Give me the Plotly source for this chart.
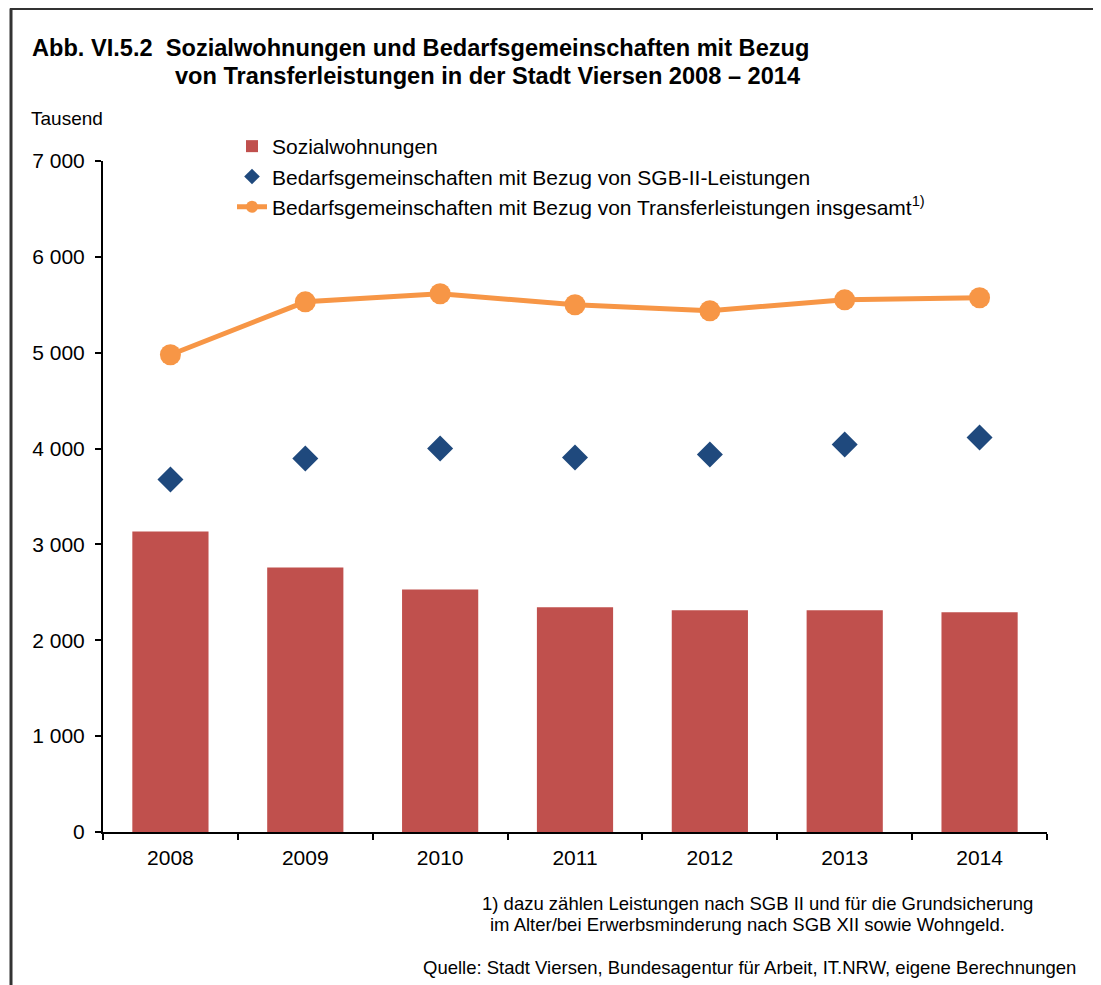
import plotly.graph_objects as go

years = ["2008", "2009", "2010", "2011", "2012", "2013", "2014"]
sozialwohnungen = [3135, 2760, 2531, 2344, 2313, 2313, 2292]
bg_sgb2 = [3677, 3896, 4000, 3906, 3938, 4042, 4115]
bg_transfer = [4979, 5531, 5615, 5500, 5438, 5552, 5573]
y_ticks = [0, 1000, 2000, 3000, 4000, 5000, 6000, 7000]

OFF = 8                      # page body margin
W, H = 1101 - 2 * OFF, 985 - OFF
L, R = 103, 1047             # plot area left/right (screen px)
T, B = 161, 832              # plot area top/bottom (screen px)
FONT = "Liberation Sans, Arial, sans-serif"


def px(x):
    return (x - L) / (R - L)


def py(y):
    return (B - y) / (B - T)


fig = go.Figure()
fig.add_trace(go.Bar(
    x=years, y=sozialwohnungen, name="Sozialwohnungen",
    marker=dict(color="#C0504D", line=dict(width=0)),
    width=0.565, legendgroup="a",
))
fig.add_trace(go.Scatter(
    x=years, y=bg_sgb2, mode="markers",
    name="Bedarfsgemeinschaften mit Bezug von SGB-II-Leistungen",
    marker=dict(symbol="diamond", size=20, color="#1F497D"),
    legendgroup="b",
))
fig.add_trace(go.Scatter(
    x=years, y=bg_transfer, mode="lines+markers",
    name="Bedarfsgemeinschaften mit Bezug von Transferleistungen insgesamt<sup>1)</sup>",
    line=dict(color="#F79646", width=5),
    marker=dict(symbol="circle", size=21, color="#F79646"),
    legendgroup="c",
))

annotations = [
    dict(text="<b>Abb. VI.5.2  Sozialwohnungen und Bedarfsgemeinschaften mit Bezug</b>",
         x=px(30), y=py(48), xanchor="left", yanchor="middle",
         font=dict(size=23.6, color="black", family=FONT)),
    dict(text="<b>von Transferleistungen in der Stadt Viersen 2008 – 2014</b>",
         x=px(173), y=py(76), xanchor="left", yanchor="middle",
         font=dict(size=23.6, color="black", family=FONT)),
    dict(text="Tausend", x=px(29), y=py(118), xanchor="left", yanchor="middle",
         font=dict(size=19, color="black", family=FONT)),
    dict(text="1) dazu zählen Leistungen nach SGB II und für die Grundsicherung",
         x=px(480), y=py(903), xanchor="left", yanchor="middle",
         font=dict(size=18.5, color="black", family=FONT)),
    dict(text="im Alter/bei Erwerbsminderung nach SGB XII sowie Wohngeld.",
         x=px(488), y=py(924), xanchor="left", yanchor="middle",
         font=dict(size=18.5, color="black", family=FONT)),
    dict(text="Quelle: Stadt Viersen, Bundesagentur für Arbeit, IT.NRW, eigene Berechnungen",
         x=px(1078), y=py(967), xanchor="right", yanchor="middle",
         font=dict(size=18.5, color="black", family=FONT)),
]
for a in annotations:
    a.update(xref="paper", yref="paper", showarrow=False)

shapes = [
    dict(type="line", xref="paper", yref="paper",
         x0=px(10), x1=px(1093), y0=py(8.5), y1=py(8.5),
         line=dict(color="#333333", width=3)),
    dict(type="line", xref="paper", yref="paper",
         x0=px(11), x1=px(11), y0=py(8.5), y1=py(985),
         line=dict(color="#333333", width=3)),
]

fig.update_layout(
    width=W, height=H,
    margin=dict(l=L - OFF, r=W - (R - OFF), t=T - OFF, b=H - (B - OFF), pad=0),
    paper_bgcolor="white", plot_bgcolor="white",
    font=dict(family=FONT, size=21, color="black"),
    separators=", ",
    showlegend=True,
    legend=dict(
        x=px(232), y=py(126), xanchor="left", yanchor="top",
        font=dict(size=21, family=FONT, color="black"),
        bgcolor="rgba(0,0,0,0)", itemsizing="constant",
        tracegroupgap=7, traceorder="normal",
    ),
    annotations=annotations,
    shapes=shapes,
    xaxis=dict(
        type="category", categoryorder="array", categoryarray=years,
        showline=True, linecolor="black", linewidth=2,
        ticks="outside", ticklen=6, tickwidth=1.5, tickcolor="black",
        tickson="boundaries", showgrid=False, zeroline=False,
        tickfont=dict(size=21), range=[-0.5, 6.5], ticklabelstandoff=6,
    ),
    xaxis2=dict(
        type="category", categoryorder="array", categoryarray=years,
        overlaying="x", anchor="y", side="bottom", range=[-0.5, 6.5],
        ticks="inside", ticklen=5, tickwidth=1.5, tickcolor="black",
        tickson="boundaries", showticklabels=False, showline=False,
        showgrid=False, zeroline=False,
    ),
    yaxis=dict(
        range=[0, 7000], tickvals=y_ticks, tickformat=",d",
        showline=True, linecolor="black", linewidth=2,
        ticks="outside", ticklen=6, tickwidth=1.5, tickcolor="black",
        showgrid=False, zeroline=False, tickfont=dict(size=21),
        ticklabelstandoff=6,
    ),
    yaxis2=dict(
        range=[0, 7000], tickvals=y_ticks, overlaying="y", anchor="x",
        side="left", ticks="inside", ticklen=6, tickwidth=1.5,
        tickcolor="black", showticklabels=False, showline=False,
        showgrid=False, zeroline=False,
    ),
)

fig.write_html("out.html")
